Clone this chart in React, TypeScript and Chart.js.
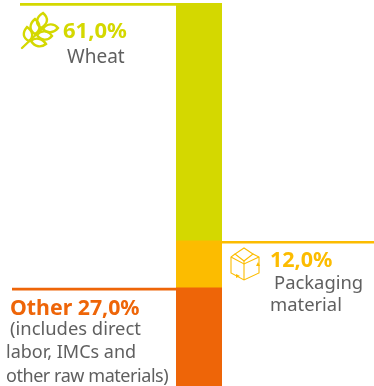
import React, { useEffect, useRef } from "react";
import { Chart, registerables } from "chart.js";

Chart.register(...registerables);

const categories = ["Cost"];
const otherValues = [27];
const packagingValues = [12];
const wheatValues = [61];
const COLORS = { wheat: "#d4d800", pack: "#fcbc00", other: "#ee6508", grey: "#5f5f5f" };
const FONT = '"Noto Sans"';

type T = { s: string; x: number; y: number; size: number; bold?: boolean; color: string; spacing?: number };
const texts: T[] = [
  { s: "61,0%", x: 63, y: 38, size: 22, bold: true, color: COLORS.wheat },
  { s: "Wheat", x: 67, y: 63, size: 19, color: COLORS.grey },
  { s: "12,0%", x: 270, y: 267, size: 21.5, bold: true, color: COLORS.pack },
  { s: "Packaging", x: 274, y: 289, size: 18.4, color: COLORS.grey },
  { s: "material", x: 270, y: 311, size: 18.4, color: COLORS.grey },
  { s: "Other 27,0%", x: 10, y: 315, size: 21.3, bold: true, color: COLORS.other },
  { s: "(includes direct", x: 10, y: 335, size: 18.4, color: COLORS.grey },
  { s: "labor, IMCs and", x: 6, y: 358, size: 18, color: COLORS.grey },
  { s: "other raw materials)", x: 6, y: 382, size: 18, color: COLORS.grey, spacing: -0.45 },
];

const WHEAT_ICON = [
  "M22 48 L43 28",
  "M41 28 C35 24 36 17 43 13 C49 18 48 24 41 28 Z",
  "M35 34 C29 30 29 24 35 19 C41 24 41 30 35 34 Z",
  "M29 41 C23 38 22 33 27 27 C33 31 34 37 29 41 Z",
  "M43 29 C47 23 54 23 58 28 C54 33 47 34 43 29 Z",
  "M37 35 C41 30 48 30 52 36 C48 41 41 41 37 35 Z",
  "M31 41 C35 37 42 38 46 44 C41 48 35 47 31 41 Z",
];
const BOX_ICON = [
  "M244 248 L235 254 L244 261 L253 254 Z",
  "M235 254 L231 257 L231 273 L244 280 L259 273 L259 257 L253 254",
  "M244 261 L244 280",
  "M231 257 L244 264 L259 257",
];
const BOX_ARROWS = ["M236 274 L240 276 L236 278 Z", "M256 266 L258 262 L260 266 Z"];

const overlay = {
  id: "overlay",
  afterDatasetsDraw(chart: any) {
    const c = chart.ctx as CanvasRenderingContext2D;
    const y = chart.scales.y;
    const x0 = chart.chartArea.left;
    const x1 = chart.chartArea.right;
    const rule = (a: number, b: number, yy: number, col: string) => {
      c.strokeStyle = col;
      c.lineWidth = 2.6;
      c.beginPath();
      c.moveTo(a, yy);
      c.lineTo(b, yy);
      c.stroke();
    };
    rule(20, x1, y.getPixelForValue(100) + 1.4, COLORS.wheat);
    rule(x1, 374, y.getPixelForValue(39) + 1.4, COLORS.pack);
    rule(12, x0, y.getPixelForValue(27) + 1.4, COLORS.other);
    c.lineWidth = 2.4;
    c.lineCap = "round";
    c.strokeStyle = COLORS.wheat;
    WHEAT_ICON.forEach((d) => c.stroke(new Path2D(d)));
    c.lineWidth = 1.1;
    c.lineCap = "butt";
    c.strokeStyle = COLORS.pack;
    c.fillStyle = COLORS.pack;
    BOX_ICON.forEach((d) => c.stroke(new Path2D(d)));
    BOX_ARROWS.forEach((d) => c.fill(new Path2D(d)));
    c.textBaseline = "alphabetic";
    c.textAlign = "left";
    texts.forEach((t) => {
      c.font = `${t.bold ? "bold " : ""}${t.size}px ${FONT}`;
      (c as any).letterSpacing = `${t.spacing ?? 0}px`;
      c.fillStyle = t.color;
      c.fillText(t.s, t.x, t.y);
    });
    (c as any).letterSpacing = "0px";
  },
};

export default function App() {
  const ref = useRef<HTMLCanvasElement>(null);
  useEffect(() => {
    document.body.style.margin = "0";
    const chart = new Chart(ref.current!, {
      type: "bar",
      data: {
        labels: categories,
        datasets: [
          { label: "Other", data: otherValues, backgroundColor: COLORS.other },
          { label: "Packaging material", data: packagingValues, backgroundColor: COLORS.pack },
          { label: "Wheat", data: wheatValues, backgroundColor: COLORS.wheat },
        ],
      },
      options: {
        animation: false,
        responsive: false,
        layout: { padding: { left: 176, right: 152, top: 3, bottom: 0 } },
        plugins: { legend: { display: false }, tooltip: { enabled: false } },
        datasets: { bar: { barPercentage: 1, categoryPercentage: 1 } },
        scales: {
          x: { stacked: true, display: false },
          y: { stacked: true, display: false, min: 1.8, max: 100 },
        },
      },
      plugins: [overlay],
    } as any);
    return () => chart.destroy();
  }, []);
  return <canvas ref={ref} width={374} height={386} style={{ display: "block" }} />;
}
